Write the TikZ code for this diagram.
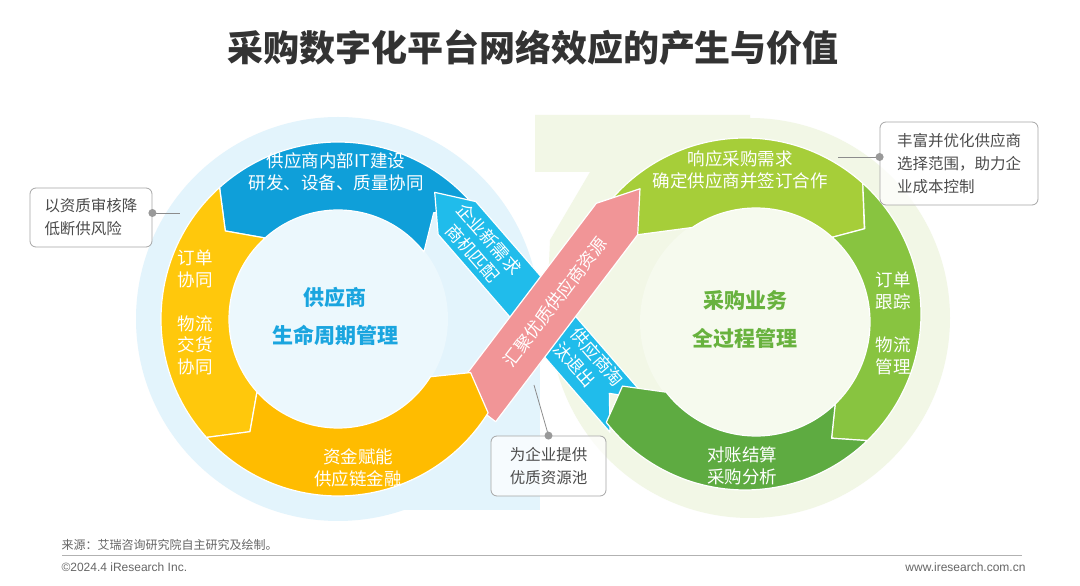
\documentclass[tikz,border=0pt]{standalone}
\usepackage{fontspec}
\setmainfont{Noto Sans CJK SC}
\newfontfamily\latinfont{Liberation Sans}
\usetikzlibrary{calc}

\definecolor{blueArc}{HTML}{0F9FD9}
\definecolor{cyanBand}{HTML}{20BCEB}
\definecolor{yellowL}{HTML}{FFC80C}
\definecolor{yellowB}{HTML}{FFBC00}
\definecolor{pinkBand}{HTML}{F19597}
\definecolor{greenTop}{HTML}{A6CE39}
\definecolor{greenRight}{HTML}{88C440}
\definecolor{greenBottom}{HTML}{5EAB41}
\definecolor{haloBlue}{HTML}{E3F4FC}
\definecolor{coreBlue}{HTML}{ECF8FD}
\definecolor{haloGreen}{HTML}{F2F7E6}
\definecolor{coreGreen}{HTML}{F6FAEE}
\definecolor{txtBlue}{HTML}{1AA5DF}
\definecolor{txtGreen}{HTML}{68B23E}
\definecolor{titleGray}{HTML}{333333}

% ring piece: outer centre, inner centre, start, end, tip shift, inner r, outer r, colour
\newcommand{\ringpart}[8]{%
  \pgfmathsetmacro{\rmid}{(#6+#7)/2}%
  \pgfmathsetmacro{\tipang}{#4+#5}%
  \pgfmathsetmacro{\notchang}{#3+#5}%
  \coordinate (rpMid) at ($(#1)!0.5!(#2)$);
  \fill[#8,draw=white,line width=1.2pt,line join=round]
    ([shift={(#1)}]#3:#7) arc[start angle=#3,end angle=#4,radius=#7]
    -- ([shift={(rpMid)}]\tipang:\rmid) -- ([shift={(#2)}]#4:#6)
    arc[start angle=#4,end angle=#3,radius=#6]
    -- ([shift={(rpMid)}]\notchang:\rmid) -- cycle;
}
% straight piece: tail, head, half width, tip depth, notch depth, colour
\newcommand{\flowband}[6]{%
  \fill[#6,draw=white,line width=1.2pt,line join=round]
    ($(#1)!#3!90:(#2)$) -- ($(#2)!#3!-90:(#1)$) -- ($(#2)!-#4!(#1)$)
    -- ($(#2)!#3!90:(#1)$) -- ($(#1)!#3!-90:(#2)$) -- ($(#1)!#5!(#2)$) -- cycle;
}

\tikzset{
  ringtext/.style={text=white,font=\fontsize{17.5}{21.5}\selectfont,align=center},
  hubtext/.style={font=\bfseries\fontsize{21}{38}\selectfont,align=center},
  notebox/.style={draw=black!35,line width=0.8pt,rounded corners=6pt,fill=white,
    fill opacity=0.7,text opacity=1,text=black!70,
    font=\fontsize{15.5}{23}\selectfont,align=left,inner sep=0pt},
  callout/.style={draw=black!45,line width=0.8pt},
  dot/.style={fill=black!40},
  foot/.style={text=black!60,font=\latinfont\fontsize{12}{14}\selectfont},
}

\begin{document}
\begin{tikzpicture}[x=1pt,y=1pt]
    \fill[white] (0,0) rectangle (1080,586);
    \useasboundingbox (0,0) rectangle (1080,586);
    %% Nodes
    \coordinate (C1) at (338,267);
    \coordinate (C2) at (745,272);
    \coordinate (C2i) at (756,264);
    \coordinate (Tc) at (629,170);
    \coordinate (Hc) at (457,368);
    \coordinate (Tp) at (475,180);
    \coordinate (Hp) at (617,367);
    \coordinate (pinkR) at ($(Hp)!26pt!90:(Tp)$);
    %% Backgrounds
    \fill[haloGreen] (750,268) circle[radius=200];
    \fill[haloGreen] (535,471) -- (750,471) -- (750,268) -- (548,300) -- (550,346)
        -- (590,414) -- (535,414) -- cycle;
    \fill[haloBlue] (C1) circle[radius=202];
    \fill[haloBlue] (338,76) rectangle (540,266);
    \fill[coreBlue] (C1) circle[radius=110];
    \fill[coreGreen] (C2i) circle[radius=116];
    %% Loop
    \ringpart{C1}{C1}{38}{132}{10}{109}{177}{blueArc}
    \ringpart{C1}{C1}{132}{222}{10}{109}{177}{yellowL}
    \fill[greenTop,draw=white,line width=1.2pt,line join=round]
        ([shift={(C2)}]145:176) arc[start angle=145,end angle=48,radius=176]
        -- ([shift={(750,268)}]38:145) -- ([shift={(C2i)}]48:114)
        arc[start angle=48,end angle=124,radius=114] -- (pinkR) -- cycle;
    \ringpart{C2}{C2i}{48}{-46}{-10}{114}{176}{greenRight}
    \flowband{Tc}{Hc}{25pt}{34pt}{30pt}{cyanBand}
    \flowband{Tp}{Hp}{26pt}{38pt}{0pt}{pinkBand}
    \ringpart{C1}{C1}{222}{328}{10}{109}{177}{yellowB}
    \ringpart{C2}{C2i}{-46}{-142}{-10}{114}{176}{greenBottom}
    %% Texts on the loop
    \node[ringtext] (blueTxt) at (336,414) {供应商内部IT建设\\研发、设备、质量协同};
    \node[ringtext] (orderTxt) at (195,317) {订单\\协同};
    \node[ringtext] (logiTxt) at (195,241) {物流\\交货\\协同};
    \node[ringtext] (finTxt) at (358,118) {资金赋能\\供应链金融};
    \node[ringtext,rotate=-49] (needTxt) at (481,340) {企业新需求\\商机匹配};
    \node[ringtext,rotate=-49,align=left] (exitTxt) at (589,222) {供应商淘\\汰退出};
    \node[ringtext,rotate=52.7] (poolTxt) at (555,284) {汇聚优质供应商资源};
    \node[ringtext] (buyTxt) at (740,416) {响应采购需求\\确定供应商并签订合作};
    \node[ringtext] (trackTxt) at (893,295) {订单\\跟踪};
    \node[ringtext] (flowTxt) at (893,230) {物流\\管理};
    \node[ringtext] (billTxt) at (742,120) {对账结算\\采购分析};
    \node[hubtext,text=txtBlue] (hubL) at (335,270) {供应商\\生命周期管理};
    \node[hubtext,text=txtGreen] (hubR) at (745,266) {采购业务\\全过程管理};
    %% Notes
    \node[notebox,minimum width=122,minimum height=59] (noteA) at (91,368.5)
        {以资质审核降\\低断供风险};
    \node[notebox,minimum width=158,minimum height=83] (noteB) at (959,422.5)
        {丰富并优化供应商\\选择范围，助力企\\业成本控制};
    \node[notebox,minimum width=115,minimum height=60] (noteC) at (548.5,120)
        {为企业提供\\优质资源池};
    \coordinate (endA) at (180,373);
    \coordinate (endB) at (838,429);
    \coordinate (endC) at (534,201);
    \coordinate (dotA) at ([yshift=4.5pt]noteA.east);
    \coordinate (dotB) at ([yshift=6.5pt]noteB.west);
    \coordinate (dotC) at (noteC.north);
    \draw[callout] (dotA) -- (endA);
    \draw[callout] (dotB) -- (endB);
    \draw[callout] (dotC) -- (endC);
    \fill[dot] (dotA) circle[radius=4];
    \fill[dot] (dotB) circle[radius=4];
    \fill[dot] (dotC) circle[radius=4];
    %% Title and footer
    \node[text=titleGray,font=\bfseries\fontsize{36}{40}\selectfont] (title) at (533,538)
        {采购数字化平台网络效应的产生与价值};
    \node[anchor=west,text=black!60,font=\fontsize{12}{14}\selectfont] (src) at (58,41)
        {来源：艾瑞咨询研究院自主研究及绘制。};
    \coordinate (ruleL) at (62,31);
    \coordinate (ruleR) at (1022,31);
    \draw[black!30,line width=0.8pt] (ruleL) -- (ruleR);
    \node[anchor=west,foot] (copy) at (58,19) {©2024.4 iResearch Inc.};
    \node[anchor=east,foot] (web) at (1029,19) {www.iresearch.com.cn};
\end{tikzpicture}
\end{document}
